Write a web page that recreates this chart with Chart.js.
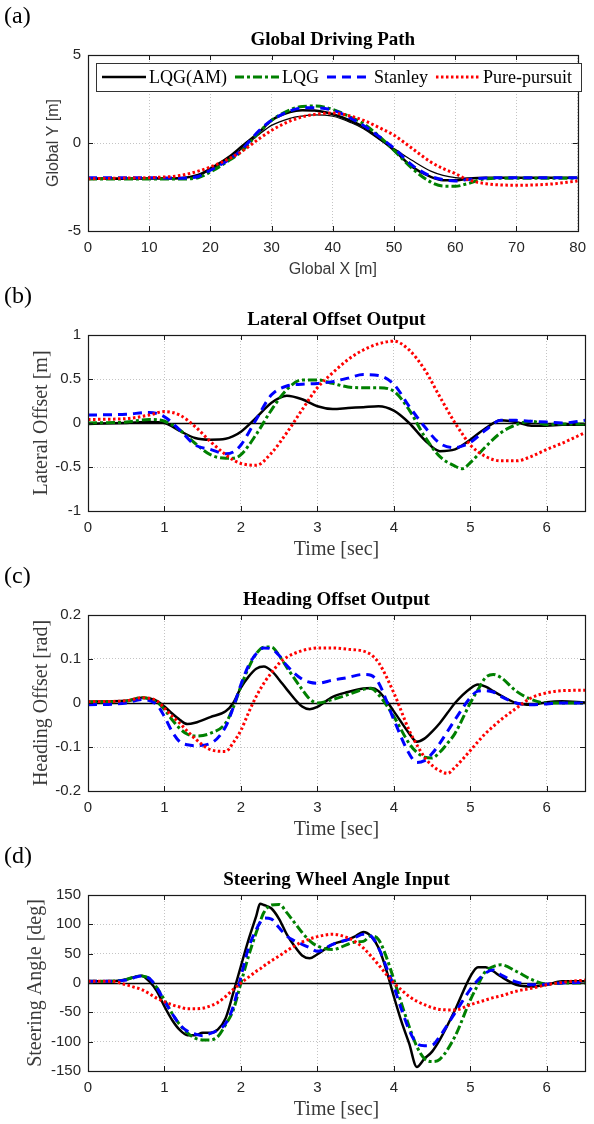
<!DOCTYPE html>
<html>
<head>
  <title>Path tracking comparison</title>
  <script src="https://cdn.jsdelivr.net/npm/chart.js"></script>
  <style>
    body {
      margin: 0;
      background: #ffffff;
    }

    .panel {
      position: absolute;
      left: 0;
    }
  </style>
</head>
<body>
  <canvas id="pathChart" class="panel" width="594" height="280" style="top:0px"></canvas>
  <canvas id="latChart" class="panel" width="594" height="280" style="top:280px"></canvas>
  <canvas id="headChart" class="panel" width="594" height="280" style="top:560px"></canvas>
  <canvas id="steerChart" class="panel" width="594" height="284" style="top:840px"></canvas>

  <script>
    // series names (legend order)
    const seriesNames = ["LQG(AM)", "LQG", "Stanley", "Pure-pursuit"];

    // (a) global driving path
    const pathX = [0, 5, 10, 15, 18, 20, 23, 25, 28, 30, 33, 35, 37, 40, 43, 45, 48, 50, 53, 56, 58, 60, 62, 65, 70, 75, 80];
    const pathRef = [-2, -2, -2, -1.98, -1.85, -1.55, -0.9, -0.35, 0.5, 1.0, 1.4, 1.53, 1.6, 1.52, 1.15, 0.81, 0.1, -0.32, -1.0, -1.6, -1.84, -1.97, -2, -2, -2, -2, -2];
    const pathLqgAm = [-2.03, -2.03, -2.02, -2.0, -1.82, -1.46, -0.8, -0.23, 0.63, 1.29, 1.76, 1.86, 1.84, 1.63, 1.25, 0.91, 0.15, -0.42, -1.36, -1.93, -2.12, -2.12, -2.03, -1.97, -1.97, -1.97, -1.97];
    const pathLqg = [-2.05, -2.05, -2.05, -2.05, -1.97, -1.65, -1.0, -0.51, 0.63, 1.29, 1.89, 2.08, 2.1, 1.91, 1.45, 1.1, 0.25, -0.42, -1.46, -2.22, -2.45, -2.46, -2.31, -2.03, -2.0, -2.0, -2.0];
    const pathStanley = [-1.97, -1.97, -1.97, -2.0, -1.9, -1.55, -0.95, -0.42, 0.72, 1.29, 1.82, 1.99, 2.0, 1.86, 1.4, 1.0, 0.25, -0.3, -1.27, -1.89, -2.08, -2.16, -2.08, -1.99, -1.97, -1.97, -1.97];
    const pathPure = [-2.03, -2.0, -1.97, -1.85, -1.6, -1.36, -0.9, -0.51, 0.25, 0.72, 1.25, 1.48, 1.62, 1.7, 1.52, 1.29, 0.8, 0.44, -0.32, -1.08, -1.45, -1.74, -2.08, -2.31, -2.4, -2.35, -2.16];

    // (b) lateral offset
    const latTime = [0, 0.5, 0.8, 1.0, 1.2, 1.4, 1.6, 1.8, 1.9, 2.0, 2.2, 2.4, 2.6, 2.8, 3.0, 3.2, 3.4, 3.6, 3.8, 4.0, 4.2, 4.4, 4.6, 4.8, 4.9, 5.0, 5.2, 5.4, 5.6, 5.8, 6.0, 6.2, 6.5];
    const latLqgAm = [-0.01, 0, 0.01, 0.0, -0.09, -0.17, -0.19, -0.18, -0.15, -0.1, 0.06, 0.23, 0.31, 0.27, 0.19, 0.16, 0.17, 0.18, 0.19, 0.14, 0.0, -0.19, -0.32, -0.30, -0.25, -0.19, -0.06, 0.03, 0.01, -0.03, -0.03, -0.02, -0.02];
    const latLqg = [0.0, 0.01, 0.04, 0.02, -0.08, -0.23, -0.36, -0.40, -0.40, -0.36, -0.13, 0.15, 0.38, 0.49, 0.49, 0.45, 0.41, 0.40, 0.40, 0.36, 0.15, -0.15, -0.38, -0.49, -0.52, -0.45, -0.27, -0.11, -0.02, 0.02, -0.02, -0.01, -0.01];
    const latStanley = [0.09, 0.1, 0.12, 0.07, -0.08, -0.25, -0.30, -0.35, -0.33, -0.25, 0.04, 0.32, 0.42, 0.44, 0.45, 0.47, 0.51, 0.55, 0.54, 0.44, 0.19, -0.04, -0.23, -0.28, -0.26, -0.22, -0.08, 0.03, 0.03, 0.02, 0.01, 0.0, 0.03];
    const latPure = [0.04, 0.05, 0.09, 0.13, 0.09, -0.04, -0.21, -0.36, -0.42, -0.46, -0.48, -0.34, -0.11, 0.15, 0.40, 0.57, 0.72, 0.83, 0.90, 0.93, 0.83, 0.61, 0.30, 0.0, -0.13, -0.25, -0.38, -0.43, -0.43, -0.38, -0.30, -0.23, -0.11];

    // (c) heading offset
    const headTime = [0, 0.5, 0.7, 0.9, 1.0, 1.1, 1.2, 1.3, 1.4, 1.6, 1.8, 1.9, 2.0, 2.1, 2.2, 2.3, 2.4, 2.5, 2.6, 2.8, 2.9, 3.0, 3.2, 3.4, 3.6, 3.7, 3.8, 4.0, 4.2, 4.3, 4.4, 4.5, 4.6, 4.7, 4.8, 5.0, 5.1, 5.2, 5.3, 5.4, 5.6, 5.8, 6.0, 6.2, 6.5];
    const headLqgAm = [0.003, 0.005, 0.012, 0.005, -0.008, -0.024, -0.038, -0.048, -0.045, -0.032, -0.019, 0.0, 0.035, 0.06, 0.078, 0.083, 0.073, 0.053, 0.031, -0.008, -0.014, -0.009, 0.014, 0.025, 0.033, 0.034, 0.027, -0.019, -0.069, -0.088, -0.081, -0.065, -0.046, -0.023, 0.0, 0.033, 0.042, 0.037, 0.027, 0.017, 0.0, -0.004, 0.002, 0.004, 0.001];
    const headLqg = [0.002, 0.004, 0.012, 0.002, -0.015, -0.038, -0.058, -0.071, -0.075, -0.069, -0.046, -0.01, 0.038, 0.08, 0.112, 0.127, 0.127, 0.108, 0.081, 0.031, 0.009, 0.0, 0.008, 0.019, 0.031, 0.033, 0.019, -0.031, -0.092, -0.112, -0.123, -0.125, -0.112, -0.092, -0.069, 0.0, 0.03, 0.058, 0.065, 0.058, 0.027, 0.008, 0.0, 0.0, 0.0];
    const headStanley = [-0.004, 0.0, 0.008, -0.004, -0.031, -0.065, -0.088, -0.095, -0.097, -0.092, -0.054, -0.01, 0.042, 0.085, 0.112, 0.125, 0.123, 0.108, 0.085, 0.054, 0.047, 0.045, 0.052, 0.058, 0.065, 0.063, 0.046, -0.038, -0.115, -0.135, -0.131, -0.115, -0.092, -0.065, -0.038, 0.012, 0.027, 0.028, 0.025, 0.015, 0.0, -0.004, -0.002, 0.0, 0.0];
    const headPure = [0.003, 0.005, 0.012, 0.005, -0.012, -0.03, -0.046, -0.064, -0.081, -0.106, -0.11, -0.09, -0.062, -0.022, 0.015, 0.045, 0.069, 0.09, 0.104, 0.119, 0.123, 0.125, 0.125, 0.122, 0.118, 0.11, 0.092, 0.023, -0.062, -0.095, -0.123, -0.142, -0.154, -0.16, -0.146, -0.108, -0.088, -0.069, -0.053, -0.038, -0.012, 0.012, 0.023, 0.028, 0.029];

    // (d) steering wheel angle
    const steerTime = [0, 0.3, 0.5, 0.6, 0.7, 0.8, 0.9, 1.0, 1.1, 1.2, 1.3, 1.4, 1.5, 1.6, 1.7, 1.8, 1.9, 2.0, 2.1, 2.2, 2.25, 2.3, 2.4, 2.5, 2.6, 2.7, 2.8, 2.9, 3.0, 3.2, 3.4, 3.5, 3.6, 3.7, 3.8, 3.9, 4.0, 4.1, 4.2, 4.3, 4.4, 4.5, 4.6, 4.8, 5.0, 5.1, 5.2, 5.3, 5.4, 5.6, 5.8, 6.0, 6.2, 6.5];
    const steerLqgAm = [3, 3, 6, 10, 12.5, 3, -14, -40, -63, -80, -89, -89, -85, -85, -79, -60, -17, 29, 74, 114, 135, 133, 127, 109, 83, 63, 47, 42, 49, 66, 74, 80, 87, 80, 60, 23, -23, -66, -103, -143, -129, -117, -97, -46, 11, 27, 27, 20, 11, -3, -6, -3, 3, 3];
    const steerLqg = [3, 3, 6, 10, 12, 8, -8, -29, -52, -71, -85, -94, -97, -97, -91, -71, -46, 0, 46, 86, 104, 120, 133, 134, 120, 103, 86, 72, 63, 57, 66, 70, 71, 80, 74, 45, 6, -35, -74, -108, -129, -134, -130, -91, -29, -3, 20, 28, 31, 20, 6, -2, 0, 0];
    const steerStanley = [3, 3, 5, 9, 12, 8, -8, -31, -52, -71, -82, -87, -90, -86, -80, -69, -40, 11, 60, 91, 103, 111, 109, 94, 80, 72, 66, 60, 54, 66, 74, 78, 83, 80, 60, 28, -6, -45, -80, -103, -107, -106, -91, -51, -11, 5, 17, 22, 14, 2, -3, -2, 0, 1];
    const steerPure = [3, 3, -3, -7, -11, -18, -26, -32, -37, -41, -44, -44, -43, -39, -33, -23, -11, 0, 10, 20, 24, 29, 38, 46, 55, 63, 70, 75, 79, 83, 77, 70, 60, 46, 31, 15, 0, -12, -23, -31, -37, -42, -45, -46, -37, -33, -29, -25, -22, -14, -9, -3, 1, 5];

    // tick values
    const pathXTicks = [0, 10, 20, 30, 40, 50, 60, 70, 80];
    const pathYTicks = [-5, 0, 5];
    const timeTicks = [0, 1, 2, 3, 4, 5, 6];
    const latTicks = [-1, -0.5, 0, 0.5, 1];
    const headTicks = [-0.2, -0.1, 0, 0.1, 0.2];
    const steerTicks = [-150, -100, -50, 0, 50, 100, 150];

    // line styles, same order as seriesNames
    const lineStyles = [
      { color: "#000000", width: 2.5, dash: [] },
      { color: "#008000", width: 3, dash: [9, 3, 3, 3] },
      { color: "#0000ff", width: 3, dash: [9, 6] },
      { color: "#ff0000", width: 3, dash: [2.5, 2.5] }
    ];

    const SANS = "'Liberation Sans', Arial, sans-serif";
    const SERIF = "'Liberation Serif', 'Times New Roman', serif";

    function toPoints(xs, ys) {
      return xs.map((x, i) => ({ x: x, y: ys[i] }));
    }

    function makeDataset(xs, ys, idx) {
      const st = lineStyles[idx];
      return {
        label: seriesNames[idx],
        data: toPoints(xs, ys),
        borderColor: st.color,
        borderWidth: st.width,
        borderDash: st.dash,
        pointRadius: 0,
        fill: false,
        cubicInterpolationMode: "monotone",
        order: 3 - idx
      };
    }

    // draws box, inside ticks, texts, zero line and legend
    function panelPlugin(p) {
      return {
        id: "panelDecor",
        beforeDatasetsDraw(chart) {
          if (!p.zeroLine) return;
          const ctx = chart.ctx;
          const a = chart.chartArea;
          const y0 = Math.round(chart.scales.y.getPixelForValue(0)) + 0.5;
          ctx.save();
          ctx.strokeStyle = "#000";
          ctx.lineWidth = 1.5;
          ctx.beginPath();
          ctx.moveTo(a.left, y0);
          ctx.lineTo(a.right, y0);
          ctx.stroke();
          ctx.restore();
        },
        afterDraw(chart) {
          const ctx = chart.ctx;
          const a = chart.chartArea;
          const xs = chart.scales.x;
          const ys = chart.scales.y;
          ctx.save();

          // axes box
          ctx.strokeStyle = "#1a1a1a";
          ctx.lineWidth = 1.2;
          ctx.strokeRect(Math.round(a.left) + 0.5, Math.round(a.top) + 0.5, Math.round(a.right - a.left), Math.round(a.bottom - a.top));

          // inside tick marks
          ctx.lineWidth = 1;
          ctx.beginPath();
          xs.ticks.forEach(t => {
            const px = Math.round(xs.getPixelForValue(t.value)) + 0.5;
            ctx.moveTo(px, a.bottom); ctx.lineTo(px, a.bottom - 5);
            ctx.moveTo(px, a.top); ctx.lineTo(px, a.top + 5);
          });
          ys.ticks.forEach(t => {
            const py = Math.round(ys.getPixelForValue(t.value)) + 0.5;
            ctx.moveTo(a.left, py); ctx.lineTo(a.left + 5, py);
            ctx.moveTo(a.right, py); ctx.lineTo(a.right - 5, py);
          });
          ctx.stroke();

          const cx = (a.left + a.right) / 2;
          const cy = (a.top + a.bottom) / 2;

          // panel tag
          ctx.fillStyle = "#000";
          ctx.font = "24px " + SERIF;
          ctx.textAlign = "left";
          ctx.textBaseline = "middle";
          ctx.fillText(p.tag, 4, 17);

          // title
          ctx.font = "bold 19px " + SERIF;
          ctx.textAlign = "center";
          ctx.fillText(p.title, cx, 40);

          // axis titles
          ctx.fillStyle = "#3a3a3a";
          ctx.font = p.axisFont;
          ctx.fillText(p.xTitle, cx, p.xTitleY);
          ctx.save();
          ctx.translate(p.yTitleX, cy);
          ctx.rotate(-Math.PI / 2);
          ctx.fillText(p.yTitle, 0, 0);
          ctx.restore();

          // legend
          if (p.legend) {
            const box = { left: 96, top: 63, right: 581, bottom: 91 };
            ctx.fillStyle = "#ffffff";
            ctx.fillRect(box.left, box.top, box.right - box.left, box.bottom - box.top);
            ctx.strokeStyle = "#333";
            ctx.lineWidth = 1;
            ctx.strokeRect(box.left + 0.5, box.top + 0.5, box.right - box.left, box.bottom - box.top);
            const ly = (box.top + box.bottom) / 2;
            let x = 102;
            ctx.font = "18px " + SERIF;
            ctx.textAlign = "left";
            chart.data.datasets.filter(d => d.inLegend).forEach(d => {
              ctx.strokeStyle = d.borderColor;
              ctx.lineWidth = d.borderWidth;
              ctx.setLineDash(d.borderDash);
              ctx.beginPath();
              ctx.moveTo(x, ly);
              ctx.lineTo(x + 44, ly);
              ctx.stroke();
              ctx.setLineDash([]);
              ctx.fillStyle = "#000";
              ctx.fillText(d.label, x + 47, ly + 1);
              x += 47 + ctx.measureText(d.label).width + 8;
            });
          }
          ctx.restore();
        }
      };
    }

    function makeChart(canvasId, datasets, xr, yr, xTicks, yTicks, p) {
      return new Chart(document.getElementById(canvasId), {
        type: "line",
        data: { datasets: datasets },
        options: {
          responsive: false,
          animation: false,
          devicePixelRatio: 1,
          layout: { padding: { top: 55, right: 9, bottom: 0, left: 0 } },
          plugins: { legend: { display: false }, title: { display: false }, tooltip: { enabled: false } },
          scales: {
            x: {
              type: "linear",
              min: xr[0],
              max: xr[1],
              afterBuildTicks: s => { s.ticks = xTicks.map(v => ({ value: v })); },
              afterFit: s => { s.height = p.bottomPad; },
              grid: { color: "#c4c4c4", lineWidth: 1, drawTicks: false },
              border: { display: false, dash: [1, 2] },
              ticks: { color: "#262626", font: { family: SANS, size: 15 }, padding: 8, maxRotation: 0, callback: v => String(v) }
            },
            y: {
              type: "linear",
              min: yr[0],
              max: yr[1],
              afterBuildTicks: s => { s.ticks = yTicks.map(v => ({ value: v })); },
              afterFit: s => { s.width = 88; },
              grid: { color: "#c4c4c4", lineWidth: 1, drawTicks: false },
              border: { display: false, dash: [1, 2] },
              ticks: { color: "#262626", font: { family: SANS, size: 15 }, padding: 7, callback: v => String(v) }
            }
          }
        },
        plugins: [panelPlugin(p)]
      });
    }

    // (a)
    const refSet = {
      label: "reference",
      data: toPoints(pathX, pathRef),
      borderColor: "#000000",
      borderWidth: 1.2,
      pointRadius: 0,
      fill: false,
      cubicInterpolationMode: "monotone",
      order: 4
    };
    const pathSets = [pathLqgAm, pathLqg, pathStanley, pathPure].map((ys, i) => Object.assign(makeDataset(pathX, ys, i), { inLegend: true }));
    makeChart("pathChart", [refSet].concat(pathSets), [0, 80], [-5, 5], pathXTicks, pathYTicks, {
      tag: "(a)", title: "Global Driving Path", xTitle: "Global X [m]", yTitle: "Global Y [m]",
      axisFont: "16px " + SANS, xTitleY: 270, yTitleX: 54, legend: true, zeroLine: false, bottomPad: 49
    });

    // (b)
    makeChart("latChart", [latLqgAm, latLqg, latStanley, latPure].map((ys, i) => makeDataset(latTime, ys, i)), [0, 6.5], [-1, 1], timeTicks, latTicks, {
      tag: "(b)", title: "Lateral Offset Output", xTitle: "Time [sec]", yTitle: "Lateral Offset [m]",
      axisFont: "20px " + SERIF, xTitleY: 270, yTitleX: 42, legend: false, zeroLine: true, bottomPad: 49
    });

    // (c)
    makeChart("headChart", [headLqgAm, headLqg, headStanley, headPure].map((ys, i) => makeDataset(headTime, ys, i)), [0, 6.5], [-0.2, 0.2], timeTicks, headTicks, {
      tag: "(c)", title: "Heading Offset Output", xTitle: "Time [sec]", yTitle: "Heading Offset [rad]",
      axisFont: "20px " + SERIF, xTitleY: 270, yTitleX: 42, legend: false, zeroLine: true, bottomPad: 49
    });

    // (d)
    makeChart("steerChart", [steerLqgAm, steerLqg, steerStanley, steerPure].map((ys, i) => makeDataset(steerTime, ys, i)), [0, 6.5], [-150, 150], timeTicks, steerTicks, {
      tag: "(d)", title: "Steering Wheel Angle Input", xTitle: "Time [sec]", yTitle: "Steering Angle [deg]",
      axisFont: "20px " + SERIF, xTitleY: 270, yTitleX: 36, legend: false, zeroLine: true, bottomPad: 53
    });
  </script>
</body>
</html>
